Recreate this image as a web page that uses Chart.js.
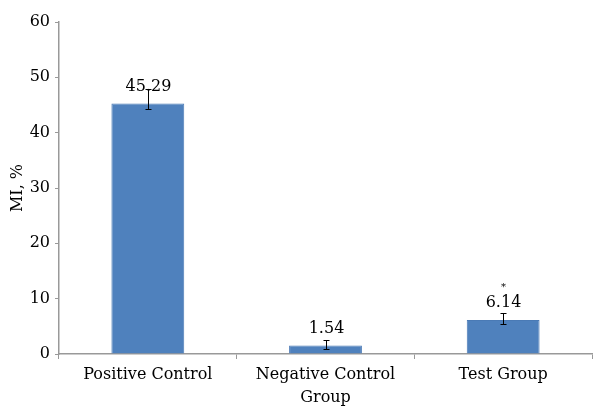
<!DOCTYPE html>
<html><head><meta charset="utf-8">
<script src="https://cdn.jsdelivr.net/npm/chart.js@4/dist/chart.umd.min.js"></script>
<style>html,body{margin:0;padding:0;background:#fff}#wrap{width:595px;height:411px}</style>
</head><body><div id="wrap"><canvas id="c" width="595" height="411"></canvas></div>
<script>
const categories = [['Positive Control'], ['Negative Control', 'Group'], ['Test Group']];
const values = [45.29, 1.54, 6.14];
const errUp = [2.6, 1.0, 1.35];
const errDown = [1.0, 0.65, 0.7];
const valueLabels = ['45.29', '1.54', '6.14'];
const marks = ['', '', '*'];
const yTicks = [0, 10, 20, 30, 40, 50, 60];

const FONT = '"DejaVu Serif", serif';
const FS = 16;

const errPlugin = {
  id: 'err',
  afterDatasetsDraw(chart) {
    const ctx = chart.ctx, x = chart.scales.x, y = chart.scales.y;
    ctx.save();
    ctx.strokeStyle = '#000'; ctx.lineWidth = 1;
    values.forEach((v, i) => {
      const cx = Math.round(x.getPixelForValue(i)) + 0.5;
      const t = Math.round(y.getPixelForValue(v + errUp[i])) + 0.5, b = Math.round(y.getPixelForValue(v - errDown[i])) + 0.5;
      ctx.beginPath();
      ctx.moveTo(cx, t); ctx.lineTo(cx, b);
      ctx.moveTo(cx - 3, t); ctx.lineTo(cx + 3, t);
      ctx.moveTo(cx - 3, b); ctx.lineTo(cx + 3, b);
      ctx.stroke();
      ctx.fillStyle = '#000';
      ctx.font = FS + 'px ' + FONT;
      ctx.textAlign = 'center'; ctx.textBaseline = 'middle';
      const ly = y.getPixelForValue(v) - 17;
      ctx.fillText(valueLabels[i], cx, ly);
      if (marks[i]) { ctx.font = '10px ' + FONT; ctx.fillText(marks[i], cx, ly - 16); }
    });
    ctx.restore();
  }
};

new Chart(document.getElementById('c'), {
  type: 'bar',
  data: { labels: categories, datasets: [{ data: values, backgroundColor: '#4F81BD', borderColor: '#4A7AB5', borderWidth: 1, categoryPercentage: 1, barPercentage: 0.41 }] },
  options: {
    responsive: false, animation: false,
    layout: { padding: { top: 22, right: 3, left: 0, bottom: 0 } },
    plugins: { legend: { display: false }, tooltip: { enabled: false } },
    scales: {
      x: {
        grid: { offset: true, drawOnChartArea: false, drawTicks: true, tickLength: 5, color: '#999' },
        border: { color: '#999', width: 1.5 },
        ticks: { color: '#000', font: { family: FONT, size: FS, lineHeight: 1.45 }, padding: 4, maxRotation: 0, autoSkip: false },
        afterFit(s) { s.height = 57; }
      },
      y: {
        min: 0, max: 60,
        afterBuildTicks(s) { s.ticks = yTicks.map(v => ({ value: v })); },
        grid: { drawOnChartArea: false, drawTicks: true, tickLength: 4, color: '#999' },
        border: { color: '#999', width: 1.5 },
        ticks: { color: '#000', font: { family: FONT, size: FS }, padding: 5 },
        title: { display: true, text: 'MI, %', color: '#000', font: { family: FONT, size: FS }, padding: { top: 8, bottom: 0 } },
        afterFit(s) { s.width = 59; }
      }
    }
  },
  plugins: [errPlugin]
});
</script></body></html>
